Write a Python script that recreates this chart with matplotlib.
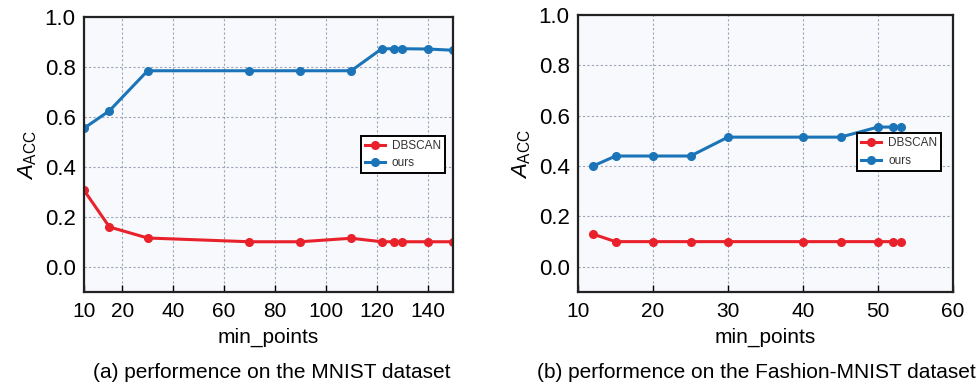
import numpy as np
import matplotlib
matplotlib.use('Agg')
import matplotlib.pyplot as plt

plt.rcParams['font.family'] = ['Liberation Sans', 'DejaVu Sans']
plt.rcParams['mathtext.fontset'] = 'custom'
plt.rcParams['mathtext.it'] = 'Liberation Sans:italic'
plt.rcParams['mathtext.rm'] = 'Liberation Sans'

# (a) MNIST
mnist_x = [10, 15, 30, 70, 90, 110, 122, 127, 130, 140, 150]
mnist_dbscan = [0.307, 0.16, 0.116, 0.101, 0.101, 0.115, 0.101, 0.101, 0.101, 0.101, 0.101]
mnist_ours = [0.555, 0.625, 0.785, 0.785, 0.785, 0.785, 0.873, 0.873, 0.873, 0.872, 0.867]
mnist_ticks = [10, 20, 40, 60, 80, 100, 120, 140]

# (b) Fashion-MNIST
fashion_x = [12, 15, 20, 25, 30, 40, 45, 50, 52, 53]
fashion_dbscan = [0.13, 0.10, 0.10, 0.10, 0.10, 0.10, 0.10, 0.10, 0.10, 0.10]
fashion_ours = [0.40, 0.44, 0.44, 0.44, 0.515, 0.515, 0.515, 0.555, 0.555, 0.555]
fashion_ticks = [10, 20, 30, 40, 50, 60]

yticks = [0.0, 0.2, 0.4, 0.6, 0.8, 1.0]

red = '#e8212b'
blue = '#1b74b8'


# the first axis squeezes 10..15 into the gap before the linear part
def fwd(v):
    v = np.asarray(v, dtype=float)
    return np.where(v < 15, 2 * v - 15, v)


def inv(p):
    p = np.asarray(p, dtype=float)
    return np.where(p < 15, (p + 15) / 2, p)


fig = plt.figure(figsize=[9.76, 3.86], dpi=100)
ax1 = fig.add_axes([84/976, 1 - 292/386, 369/976, 275/386])
ax2 = fig.add_axes([578/976, 1 - 292/386, 375/976, 277/386])


def style(ax, x, d, o, ticks, xlim):
    ax.set_facecolor('#f7f9fc')
    ax.plot(x, d, color=red, marker='o', markersize=5.5, linewidth=2.2, label='DBSCAN')
    ax.plot(x, o, color=blue, marker='o', markersize=5.5, linewidth=2.2, label='ours')
    ax.set_xlim(*xlim)
    ax.set_ylim(-0.1, 1.0)
    ax.set_xticks(ticks)
    ax.set_xticklabels([str(t) for t in ticks])
    ax.set_yticks(yticks)
    ax.set_yticklabels(['%.1f' % t for t in yticks])
    ax.grid(True, linestyle=(0, (2, 2)), color='#9da3b8', linewidth=0.8)
    ax.tick_params(direction='in', length=5, width=1, top=False, right=False)
    ax.tick_params(axis='x', labelsize=15, pad=7)
    ax.tick_params(axis='y', length=0, labelsize=16, pad=6)
    for s in ax.spines.values():
        s.set_linewidth(1.6)
        s.set_color('#222222')
    ax.set_xlabel('min_points', fontsize=15, labelpad=5)
    ax.set_ylabel(r'$A_{\mathrm{ACC}}$', fontsize=16, labelpad=4)


ax1.set_xscale('function', functions=(fwd, inv))
style(ax1, mnist_x, mnist_dbscan, mnist_ours, mnist_ticks, (10, 150))
style(ax2, fashion_x, fashion_dbscan, fashion_ours, fashion_ticks, (10, 60))

leg1 = ax1.legend(loc='center right', bbox_to_anchor=(0.995, 0.50), fontsize=8.5,
                  fancybox=False, edgecolor='black', framealpha=1,
                  handlelength=1.7, borderpad=0.35, labelspacing=0.45, handletextpad=0.6)
leg1.get_frame().set_linewidth(1.4)
leg2 = ax2.legend(loc='center right', bbox_to_anchor=(0.985, 0.505), fontsize=8.5,
                  fancybox=False, edgecolor='black', framealpha=1,
                  handlelength=1.7, borderpad=0.35, labelspacing=0.45, handletextpad=0.6)
leg2.get_frame().set_linewidth(1.4)
for leg in (leg1, leg2):
    for t in leg.get_texts():
        t.set_color('#333333')

fig.text(272/976, 1 - 373/386, '(a) performence on the MNIST dataset',
         ha='center', va='center', fontsize=15)
fig.text(756/976, 1 - 373/386, '(b) performence on the Fashion-MNIST dataset',
         ha='center', va='center', fontsize=15)

fig.savefig('out.png', dpi=100, facecolor='white')
